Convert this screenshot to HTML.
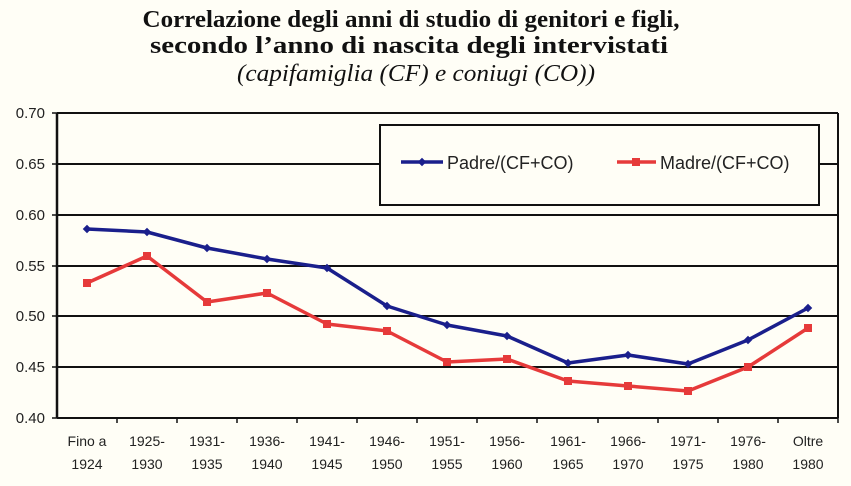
<!DOCTYPE html>
<html><head><meta charset="utf-8"><style>
html,body{margin:0;padding:0;background:#fffef6;}
svg{display:block}
</style></head><body>
<svg width="851" height="486" viewBox="0 0 851 486" xmlns="http://www.w3.org/2000/svg">
<rect width="851" height="486" fill="#fffef6"/>
<g font-family="Liberation Serif, serif" font-size="24" text-anchor="middle" fill="#111">
<text x="411" y="27" font-weight="bold" textLength="537" lengthAdjust="spacingAndGlyphs">Correlazione degli anni di studio di genitori e figli,</text>
<text x="409" y="53" font-weight="bold" textLength="518" lengthAdjust="spacingAndGlyphs">secondo l’anno di nascita degli intervistati</text>
<text x="416" y="81" font-style="italic" textLength="358" lengthAdjust="spacingAndGlyphs">(capifamiglia (CF) e coniugi (CO))</text>
</g>
<g stroke="#111" stroke-width="2">
<line x1="57" y1="113" x2="838" y2="113"/>
<line x1="57" y1="164" x2="838" y2="164"/>
<line x1="57" y1="215" x2="838" y2="215"/>
<line x1="57" y1="266" x2="838" y2="266"/>
<line x1="57" y1="316" x2="838" y2="316"/>
<line x1="57" y1="367" x2="838" y2="367"/>
<line x1="57" y1="418" x2="838" y2="418"/>
<line x1="57" y1="113" x2="57" y2="418" stroke-width="2.5"/>
<line x1="838" y1="113" x2="838" y2="418"/>
<g stroke-width="1.5">
<line x1="52" y1="113" x2="57" y2="113"/><line x1="52" y1="164" x2="57" y2="164"/><line x1="52" y1="215" x2="57" y2="215"/><line x1="52" y1="266" x2="57" y2="266"/><line x1="52" y1="316" x2="57" y2="316"/><line x1="52" y1="367" x2="57" y2="367"/><line x1="52" y1="418" x2="57" y2="418"/>
<line x1="117" y1="418" x2="117" y2="423"/><line x1="177" y1="418" x2="177" y2="423"/><line x1="237" y1="418" x2="237" y2="423"/><line x1="297" y1="418" x2="297" y2="423"/><line x1="357" y1="418" x2="357" y2="423"/><line x1="417" y1="418" x2="417" y2="423"/><line x1="477" y1="418" x2="477" y2="423"/><line x1="537" y1="418" x2="537" y2="423"/><line x1="598" y1="418" x2="598" y2="423"/><line x1="658" y1="418" x2="658" y2="423"/><line x1="718" y1="418" x2="718" y2="423"/><line x1="778" y1="418" x2="778" y2="423"/><line x1="838" y1="418" x2="838" y2="423"/>
</g>
</g>
<g font-family="Liberation Sans, sans-serif" font-size="15" fill="#222" text-anchor="end">
<text x="45" y="118">0.70</text><text x="45" y="169">0.65</text><text x="45" y="220">0.60</text><text x="45" y="271">0.55</text><text x="45" y="321">0.50</text><text x="45" y="372">0.45</text><text x="45" y="423">0.40</text>
</g>
<g font-family="Liberation Sans, sans-serif" font-size="14" fill="#222" text-anchor="middle">
<text x="87" y="446">Fino a</text><text x="87" y="469">1924</text>
<text x="147" y="446">1925-</text><text x="147" y="469">1930</text>
<text x="207" y="446">1931-</text><text x="207" y="469">1935</text>
<text x="267" y="446">1936-</text><text x="267" y="469">1940</text>
<text x="327" y="446">1941-</text><text x="327" y="469">1945</text>
<text x="387" y="446">1946-</text><text x="387" y="469">1950</text>
<text x="447" y="446">1951-</text><text x="447" y="469">1955</text>
<text x="507" y="446">1956-</text><text x="507" y="469">1960</text>
<text x="568" y="446">1961-</text><text x="568" y="469">1965</text>
<text x="628" y="446">1966-</text><text x="628" y="469">1970</text>
<text x="688" y="446">1971-</text><text x="688" y="469">1975</text>
<text x="748" y="446">1976-</text><text x="748" y="469">1980</text>
<text x="808" y="446">Oltre</text><text x="808" y="469">1980</text>
</g>
<rect x="380" y="125" width="439" height="80" fill="#fffef6" stroke="#111" stroke-width="2"/>
<line x1="401" y1="162" x2="443" y2="162" stroke="#1a1f8c" stroke-width="3.5"/>
<rect x="419" y="159" width="6" height="6" fill="#1a1f8c" transform="rotate(45 422 162)"/>
<text x="447" y="169" font-family="Liberation Sans, sans-serif" font-size="18" fill="#222">Padre/(CF+CO)</text>
<line x1="617" y1="162" x2="656" y2="162" stroke="#e63a3a" stroke-width="3.5"/>
<rect x="632" y="158" width="8" height="8" fill="#e63a3a"/>
<text x="660" y="169" font-family="Liberation Sans, sans-serif" font-size="18" fill="#222">Madre/(CF+CO)</text>
<polyline fill="none" stroke="#1a1f8c" stroke-width="3.5" stroke-linejoin="round" points="87,229 147,232 207,248 267,259 327,268 387,306 447,325 507,336 568,363 628,355 688,364 748,340 808,308"/>
<g fill="#1a1f8c">
<rect x="84" y="226" width="6" height="6" transform="rotate(45 87 229)"/><rect x="144" y="229" width="6" height="6" transform="rotate(45 147 232)"/><rect x="204" y="245" width="6" height="6" transform="rotate(45 207 248)"/><rect x="264" y="256" width="6" height="6" transform="rotate(45 267 259)"/><rect x="324" y="265" width="6" height="6" transform="rotate(45 327 268)"/><rect x="384" y="303" width="6" height="6" transform="rotate(45 387 306)"/><rect x="444" y="322" width="6" height="6" transform="rotate(45 447 325)"/><rect x="504" y="333" width="6" height="6" transform="rotate(45 507 336)"/><rect x="565" y="360" width="6" height="6" transform="rotate(45 568 363)"/><rect x="625" y="352" width="6" height="6" transform="rotate(45 628 355)"/><rect x="685" y="361" width="6" height="6" transform="rotate(45 688 364)"/><rect x="745" y="337" width="6" height="6" transform="rotate(45 748 340)"/><rect x="805" y="305" width="6" height="6" transform="rotate(45 808 308)"/>
</g>
<polyline fill="none" stroke="#e63a3a" stroke-width="3.5" stroke-linejoin="round" points="87,283 147,256 207,302 267,293 327,324 387,331 447,362 507,359 568,381 628,386 688,391 748,367 808,328"/>
<g fill="#e63a3a">
<rect x="83" y="279" width="8" height="8"/><rect x="143" y="252" width="8" height="8"/><rect x="203" y="298" width="8" height="8"/><rect x="263" y="289" width="8" height="8"/><rect x="323" y="320" width="8" height="8"/><rect x="383" y="327" width="8" height="8"/><rect x="443" y="358" width="8" height="8"/><rect x="503" y="355" width="8" height="8"/><rect x="564" y="377" width="8" height="8"/><rect x="624" y="382" width="8" height="8"/><rect x="684" y="387" width="8" height="8"/><rect x="744" y="363" width="8" height="8"/><rect x="804" y="324" width="8" height="8"/>
</g>
</svg>
</body></html>
